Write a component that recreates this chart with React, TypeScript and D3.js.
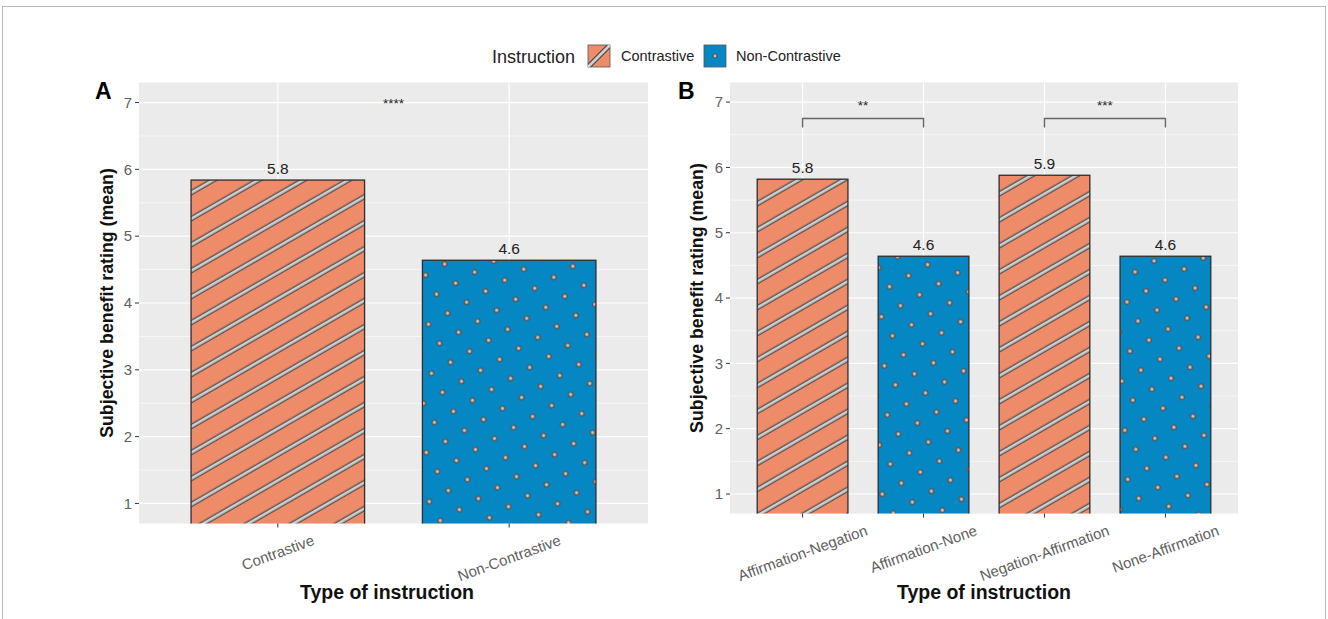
import React from "react";
import * as d3 from "d3";

// data
const categoriesA = ["Contrastive", "Non-Contrastive"];
const valuesA = [5.84, 4.64];
const labelsA = ["5.8", "4.6"];
const groupsA = ["Contrastive", "Non-Contrastive"];

const categoriesB = ["Affirmation-Negation", "Affirmation-None", "Negation-Affirmation", "None-Affirmation"];
const valuesB = [5.82, 4.64, 5.88, 4.64];
const labelsB = ["5.8", "4.6", "5.9", "4.6"];
const groupsB = ["Contrastive", "Non-Contrastive", "Contrastive", "Non-Contrastive"];

const yTicks = [1, 2, 3, 4, 5, 6, 7];
const yMinor = [1.5, 2.5, 3.5, 4.5, 5.5, 6.5];
const yDomain = [0.7, 7.3];

const sigA = [{ label: "****", y: 6.92 }];
const sigB = [
  { from: "Affirmation-Negation", to: "Affirmation-None", y: 6.75, label: "**" },
  { from: "Negation-Affirmation", to: "None-Affirmation", y: 6.75, label: "***" },
];

const legendTitle = "Instruction";
const legendItems = ["Contrastive", "Non-Contrastive"];

const FONT = "'Liberation Sans', Arial, Helvetica, sans-serif";
const SALMON = "#EE8B69";
const BLUE = "#0587C4";
const patternFor = { Contrastive: "url(#stripes)", "Non-Contrastive": "url(#dots)" };

let ctx = null;
const textWidth = (s, size) => {
  if (!ctx) ctx = document.createElement("canvas").getContext("2d");
  ctx.font = `${size}px ${FONT}`;
  return ctx.measureText(s).width;
};

const Panel = ({ tag, x0, x1, y0, y1, cats, vals, labs, groups, brackets, stars, tagX, titleX, yTitleX }) => {
  const x = d3.scaleBand().domain(cats).range([x0, x1]).paddingInner(0.25).paddingOuter(0.225);
  const y = d3.scaleLinear().domain(yDomain).range([y1, y0]);
  const cx = (c) => x(c) + x.bandwidth() / 2;
  const clipId = `clip-${tag}`;
  const rot = 20;
  const rad = (rot * Math.PI) / 180;

  return (
    <g>
      <clipPath id={clipId}>
        <rect x={x0} y={y0} width={x1 - x0} height={y1 - y0} />
      </clipPath>
      <rect x={x0} y={y0} width={x1 - x0} height={y1 - y0} fill="#EBEBEB" />
      {yMinor.map((t) => (
        <line key={"m" + t} x1={x0} x2={x1} y1={y(t)} y2={y(t)} stroke="#fff" strokeWidth={0.6} />
      ))}
      {yTicks.map((t) => (
        <line key={"g" + t} x1={x0} x2={x1} y1={y(t)} y2={y(t)} stroke="#fff" strokeWidth={1.2} />
      ))}
      {cats.map((c) => (
        <line key={"v" + c} x1={cx(c)} x2={cx(c)} y1={y0} y2={y1} stroke="#fff" strokeWidth={1.2} />
      ))}
      <g clipPath={`url(#${clipId})`}>
        {cats.map((c, i) => (
          <rect
            key={c}
            x={x(c)}
            y={y(vals[i])}
            width={x.bandwidth()}
            height={y(0) - y(vals[i])}
            fill={patternFor[groups[i]]}
            stroke="#2e2e2e"
            strokeWidth={1.3}
          />
        ))}
      </g>
      {cats.map((c, i) => (
        <text key={"l" + c} x={cx(c)} y={y(vals[i]) - 6} textAnchor="middle" fontSize={15.5} fill="#222" fontFamily={FONT}>
          {labs[i]}
        </text>
      ))}
      {stars.map((s) => (
        <text key={s.label} x={(x0 + x1) / 2} y={y(s.y)} textAnchor="middle" fontSize={13.5} fill="#222" fontFamily={FONT}>
          {s.label}
        </text>
      ))}
      {brackets.map((b) => (
        <g key={b.label}>
          <path
            d={`M${cx(b.from)},${y(b.y) + 9}V${y(b.y)}H${cx(b.to)}V${y(b.y) + 9}`}
            fill="none"
            stroke="#666"
            strokeWidth={1.4}
          />
          <text x={(cx(b.from) + cx(b.to)) / 2} y={y(b.y) - 8} textAnchor="middle" fontSize={13.5} fill="#222" fontFamily={FONT}>
            {b.label}
          </text>
        </g>
      ))}
      {/* y axis */}
      {yTicks.map((t) => (
        <g key={"t" + t}>
          <line x1={x0 - 4} x2={x0} y1={y(t)} y2={y(t)} stroke="#333" strokeWidth={1} />
          <text x={x0 - 7} y={y(t)} dy="0.35em" textAnchor="end" fontSize={15} fill="#606060" fontFamily={FONT}>
            {t}
          </text>
        </g>
      ))}
      {/* x axis */}
      {cats.map((c) => {
        const w = textWidth(c, 15);
        const ty = y1 + 9 + (w / 2) * Math.sin(rad) + 7.5 * Math.cos(rad);
        return (
          <g key={"x" + c}>
            <line x1={cx(c)} x2={cx(c)} y1={y1} y2={y1 + 4} stroke="#333" strokeWidth={1} />
            <text
              transform={`translate(${cx(c)},${ty}) rotate(${-rot})`}
              dy="0.35em"
              textAnchor="middle"
              fontSize={15}
              fill="#606060"
              fontFamily={FONT}
            >
              {c}
            </text>
          </g>
        );
      })}
      <text x={titleX ?? (x0 + x1) / 2} y={599} textAnchor="middle" fontSize={19.5} fontWeight="bold" fill="#111" fontFamily={FONT}>
        Type of instruction
      </text>
      <text
        transform={`translate(${yTitleX},${(y0 + y1) / 2}) rotate(-90)`}
        textAnchor="middle"
        fontSize={17.8}
        fontWeight="bold"
        fill="#111"
        fontFamily={FONT}
      >
        Subjective benefit rating (mean)
      </text>
      <text x={tagX} y={99} fontSize={23} fontWeight="bold" fill="#000" fontFamily={FONT}>
        {tag}
      </text>
    </g>
  );
};

export default function App() {
  const W = 1328;
  const H = 619;
  return (
    <svg width={W} height={H} style={{ position: "absolute", left: 0, top: 0, background: "#fff" }}>
      <defs>
        <pattern id="stripes" patternUnits="userSpaceOnUse" width={22.5} height={22.5} patternTransform="rotate(-30) translate(3,4)">
          <rect width={22.5} height={22.5} fill={SALMON} />
          <line x1={-1} x2={24} y1={11} y2={11} stroke="#3f3f3f" strokeWidth={5} />
          <line x1={-1} x2={24} y1={11} y2={11} stroke="#cfcfcf" strokeWidth={2.8} />
        </pattern>
        <pattern id="dots" patternUnits="userSpaceOnUse" width={22} height={22} patternTransform="rotate(-30)">
          <rect width={22} height={22} fill={BLUE} />
          <circle cx={11} cy={11} r={2.4} fill="#c4c4c4" stroke="#555" strokeWidth={1.4} />
        </pattern>
        <clipPath id="key1">
          <rect x={588} y={45} width={22} height={22} />
        </clipPath>
      </defs>
      <rect x={2.5} y={6.5} width={1323} height={640} fill="none" stroke="#bbb" strokeWidth={1} />

      {/* legend */}
      <text x={492} y={63} fontSize={18} fill="#222" fontFamily={FONT}>
        {legendTitle}
      </text>
      <g>
        <rect x={588} y={45} width={22} height={22} fill={SALMON} stroke="#555" strokeWidth={0.8} />
        <g clipPath="url(#key1)">
          <line x1={586} y1={69} x2={612} y2={43} stroke="#3f3f3f" strokeWidth={5} />
          <line x1={586} y1={69} x2={612} y2={43} stroke="#cfcfcf" strokeWidth={2.8} />
        </g>
        <text x={621} y={61} fontSize={14.5} fill="#222" fontFamily={FONT}>
          {legendItems[0]}
        </text>
        <rect x={704} y={45} width={22} height={22} fill={BLUE} stroke="#555" strokeWidth={0.8} />
        <circle cx={715} cy={56} r={2} fill="#c4c4c4" stroke="#5a5a5a" strokeWidth={1.2} />
        <text x={736} y={61} fontSize={14.5} fill="#222" fontFamily={FONT}>
          {legendItems[1]}
        </text>
      </g>

      <Panel
        tag="A"
        x0={139}
        x1={648}
        y0={82.5}
        y1={523.5}
        cats={categoriesA}
        vals={valuesA}
        labs={labelsA}
        groups={groupsA}
        brackets={[]}
        stars={sigA}
        tagX={95}
        yTitleX={113}
        titleX={387}
      />
      <Panel
        tag="B"
        x0={730}
        x1={1238}
        y0={82.5}
        y1={513.6}
        cats={categoriesB}
        vals={valuesB}
        labs={labelsB}
        groups={groupsB}
        brackets={sigB}
        stars={[]}
        tagX={678}
        yTitleX={703}
        titleX={null}
      />
    </svg>
  );
}
